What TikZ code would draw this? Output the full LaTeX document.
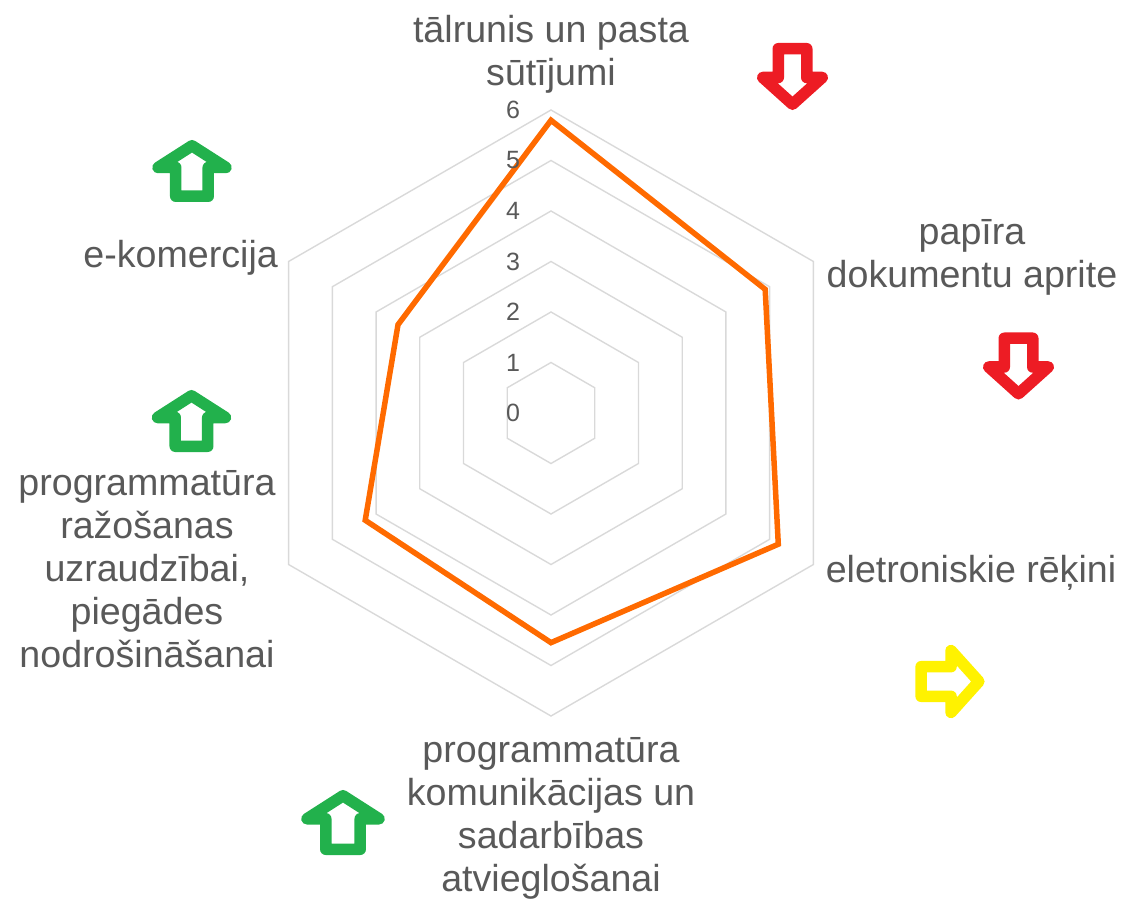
\documentclass[tikz,border=0pt]{standalone}
\usepackage{fontspec}
\setmainfont{Liberation Sans}
\usepackage{tikz}
\definecolor{txtgray}{HTML}{595959}
\definecolor{gridgray}{HTML}{D9D9D9}
\definecolor{lineorange}{HTML}{FF6A00}
\definecolor{downred}{HTML}{ED1C24}
\definecolor{upgreen}{HTML}{22B14C}
\definecolor{sideyellow}{HTML}{FFF200}
\tikzset{
  downarr/.pic={\draw [pic actions] (-14.25,27.75) -- (14.25,27.75) -- (14.25,-1) -- (29.75,-1) -- (0,-27.75) -- (-29.75,-1) -- (-14.25,-1) -- cycle;},
  housearr/.pic={\draw [pic actions] (-16.25,-25.25) -- (16.25,-25.25) -- (16.25,3.5) -- (34,3.5) -- (0,25.25) -- (-34,3.5) -- (-16.25,3.5) -- cycle;}
}
\begin{document}
\begin{tikzpicture}[x=1pt,y=1pt,
    lbl/.style={text=txtgray,font=\fontsize{37.6}{43}\selectfont,align=center,inner sep=0pt},
    tick/.style={text=txtgray,font=\fontsize{25}{30}\selectfont,inner sep=0pt},
    trend/.style={line width=11.5pt,line join=round,fill=white}]
  \useasboundingbox (-551,-486) rectangle (575,413);
  \begin{scope}[scale=50.5]
    \foreach \r in {1,...,6}
      \draw [gridgray,line width=1.4pt] (90:\r) -- (30:\r) -- (-30:\r) -- (-90:\r) -- (-150:\r) -- (150:\r) -- cycle;
    \coordinate (d1) at (90:5.8);
    \coordinate (d2) at (30:4.9);
    \coordinate (d3) at (-30:5.2);
    \coordinate (d4) at (-90:4.55);
    \coordinate (d5) at (-150:4.25);
    \coordinate (d6) at (150:3.5);
    \draw [lineorange,line width=5.5pt] (d1) -- (d2) -- (d3) -- (d4) -- (d5) -- (d6) -- cycle;
    \foreach \k in {0,...,6}
      \node [tick] (t\k) at (-0.75,\k) {\k};
  \end{scope}
  \node [lbl,anchor=base] (talr) at (0,327) {tālrunis un pasta\\sūtījumi};
  \node [lbl,anchor=base] (papi) at (421,125) {papīra\\dokumentu aprite};
  \node [lbl,anchor=base] (elek) at (420,-169) {eletroniskie rēķini};
  \node [lbl,anchor=base east] (ekom) at (-273,145) {e-komercija};
  \node [lbl,anchor=base] (razo) at (-404,-254) {programmatūra\\ražošanas\\uzraudzībai,\\piegādes\\nodrošināšanai};
  \node [lbl,anchor=base] (koms) at (0,-478) {programmatūra\\komunikācijas un\\sadarbības\\atvieglošanai};
  \pic [draw=downred,trend] (arr1) at (241.5,336.5) {downarr};
  \pic [draw=downred,trend] (arr2) at (467.5,47) {downarr};
  \pic [draw=sideyellow,trend,rotate=90,scale=1.04] (arr3) at (399,-268.5) {downarr};
  \pic [draw=upgreen,trend] (arr4) at (-359,242) {housearr};
  \pic [draw=upgreen,trend] (arr5) at (-359.5,-8) {housearr};
  \pic [draw=upgreen,trend,scale=1.06] (arr6) at (-208,-409.5) {housearr};
\end{tikzpicture}
\end{document}
